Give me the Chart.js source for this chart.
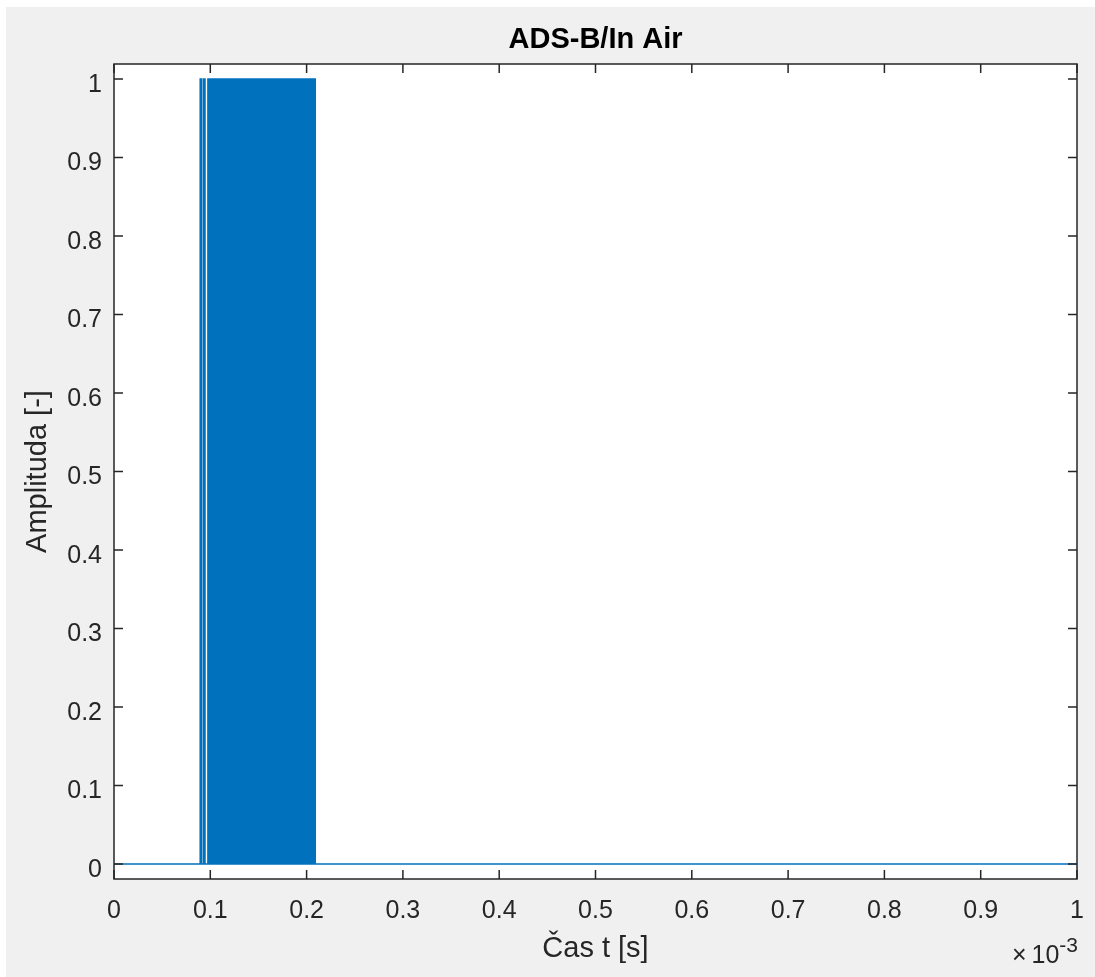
<!DOCTYPE html>
<html>
<head>
<meta charset="utf-8">
<script src="https://cdn.jsdelivr.net/npm/chart.js@4/dist/chart.umd.min.js"></script>
<style>
  html, body { margin: 0; padding: 0; background: #ffffff; }
  #wrap { width: 1095px; height: 977px; }
</style>
</head>
<body>
<div id="wrap"><canvas id="c" width="1095" height="977"></canvas></div>
<script>
// ADS-B extended squitter (airborne position), 112 bits
const messageHex = "8D40621D58C382D690C8AC2863A7";
// 8 µs preamble as 0.5 µs chips: pulses at 0, 1, 3.5 and 4.5 µs
const preambleChips = [1, 0, 1, 0, 0, 0, 0, 1, 0, 1, 0, 0, 0, 0, 0, 0];
const chipDuration = 0.5e-6;   // s
const burstStart = 89.5e-6;    // s
const timeRange = [0, 1e-3];   // s
const amplitudeRange = [-0.019, 1.019];

const xTickValues = [0, 0.1e-3, 0.2e-3, 0.3e-3, 0.4e-3, 0.5e-3, 0.6e-3, 0.7e-3, 0.8e-3, 0.9e-3, 1e-3];
const yTickValues = [0, 0.1, 0.2, 0.3, 0.4, 0.5, 0.6, 0.7, 0.8, 0.9, 1];

const titleText = "ADS-B/In Air";
const xLabelText = "Čas t [s]";
const yLabelText = "Amplituda [-]";

// PPM: bit 1 -> pulse in first half, bit 0 -> pulse in second half
function messageChips(hex) {
  const chips = [];
  for (const h of hex) {
    const nib = parseInt(h, 16);
    for (let b = 3; b >= 0; b--) {
      const bit = (nib >> b) & 1;
      chips.push(bit ? 1 : 0, bit ? 0 : 1);
    }
  }
  return chips;
}

// stepped 'after': each point's level covers the interval that ends at it
const chips = preambleChips.concat(messageChips(messageHex));
const signal = [{ x: timeRange[0], y: 0 }, { x: burstStart, y: 0 }];
chips.forEach((v, i) => signal.push({ x: burstStart + (i + 1) * chipDuration, y: v }));
signal.push({ x: timeRange[1], y: 0 });

const AX = '#262626';
const FONT = '"Liberation Sans", Arial, Helvetica, sans-serif';

const frame = {
  id: 'frame',
  beforeDraw(chart) {
    const { ctx, chartArea: a } = chart;
    ctx.save();
    ctx.fillStyle = '#ffffff';
    ctx.fillRect(0, 0, chart.width, chart.height);
    ctx.fillStyle = '#f0f0f0';
    ctx.fillRect(6, 7, chart.width - 6, chart.height - 7);
    ctx.fillStyle = '#ffffff';
    ctx.fillRect(a.left, a.top, a.right - a.left, a.bottom - a.top);
    ctx.restore();
  },
  afterDatasetsDraw(chart) {
    const { ctx, chartArea: a, scales } = chart;
    const tl = 9;
    ctx.save();
    ctx.strokeStyle = AX;
    ctx.lineWidth = 1.5;
    ctx.beginPath();
    scales.x.ticks.forEach(t => {
      const px = scales.x.getPixelForValue(t.value);
      ctx.moveTo(px, a.bottom); ctx.lineTo(px, a.bottom - tl);
      ctx.moveTo(px, a.top); ctx.lineTo(px, a.top + tl);
    });
    scales.y.ticks.forEach(t => {
      const py = scales.y.getPixelForValue(t.value);
      ctx.moveTo(a.left, py); ctx.lineTo(a.left + tl, py);
      ctx.moveTo(a.right, py); ctx.lineTo(a.right - tl, py);
    });
    ctx.stroke();
    ctx.strokeRect(a.left, a.top, a.right - a.left, a.bottom - a.top);

    // title
    ctx.fillStyle = '#000000';
    ctx.font = 'bold 29px ' + FONT;
    ctx.textAlign = 'center';
    ctx.textBaseline = 'alphabetic';
    ctx.fillText(titleText, (a.left + a.right) / 2, 48);

    // axis labels
    ctx.fillStyle = AX;
    ctx.font = '29px ' + FONT;
    ctx.fillText(xLabelText, (a.left + a.right) / 2, 957);
    ctx.save();
    ctx.translate(46, (a.top + a.bottom) / 2);
    ctx.rotate(-Math.PI / 2);
    ctx.fillText(yLabelText, 0, 0);
    ctx.restore();

    // exponent marker for the time axis
    ctx.textAlign = 'right';
    ctx.font = '21px ' + FONT;
    ctx.fillText('-3', a.right + 1, 952);
    const wExp = ctx.measureText('-3').width;
    ctx.font = '25px ' + FONT;
    ctx.fillText('10', a.right + 1 - wExp, 963);
    const wTen = ctx.measureText('10').width;
    ctx.fillText('\u00d7', a.right + 1 - wExp - wTen - 5, 963);
    ctx.restore();
  }
};

new Chart(document.getElementById('c'), {
  type: 'line',
  data: {
    datasets: [{
      data: signal,
      borderColor: '#0072BD',
      borderWidth: 1.5,
      pointRadius: 0,
      fill: false,
      tension: 0,
      stepped: 'after'
    }]
  },
  options: {
    responsive: false,
    animation: false,
    devicePixelRatio: 1,
    layout: { padding: { top: 64, right: 18, left: 0, bottom: 0 } },
    plugins: { legend: { display: false }, title: { display: false }, tooltip: { enabled: false } },
    scales: {
      x: {
        type: 'linear',
        min: timeRange[0],
        max: timeRange[1],
        afterBuildTicks(s) { s.ticks = xTickValues.map(v => ({ value: v })); },
        afterFit(s) { s.height = 98; s.paddingLeft = 0; s.paddingRight = 0; },
        grid: { display: false, drawTicks: false },
        border: { display: false },
        ticks: {
          autoSkip: false,
          maxRotation: 0,
          padding: 17,
          color: AX,
          font: { family: FONT, size: 25 },
          callback: v => String(+(v * 1e3).toFixed(1))
        }
      },
      y: {
        type: 'linear',
        min: amplitudeRange[0],
        max: amplitudeRange[1],
        afterBuildTicks(s) { s.ticks = yTickValues.map(v => ({ value: v })); },
        afterFit(s) { s.width = 114; s.paddingTop = 0; s.paddingBottom = 0; },
        grid: { display: false, drawTicks: false },
        border: { display: false },
        ticks: {
          autoSkip: false,
          padding: 12,
          labelOffset: 6,
          color: AX,
          font: { family: FONT, size: 25 },
          callback: v => String(+v.toFixed(1))
        }
      }
    }
  },
  plugins: [frame]
});
</script>
</body>
</html>
